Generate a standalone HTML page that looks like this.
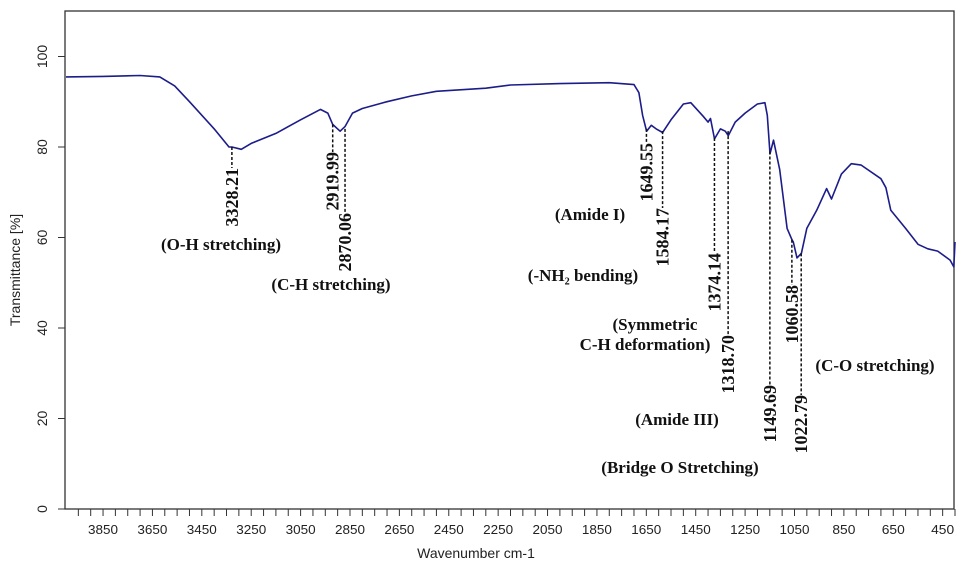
<!DOCTYPE html>
<html><head><meta charset="utf-8"><style>
html,body{margin:0;padding:0;background:#fff;}
svg{display:block;}
.ax{font-family:"Liberation Sans",sans-serif;font-size:14px;fill:#222;}
.an{font-family:"Liberation Serif",serif;font-weight:bold;font-size:18px;fill:#111;}
.gr{font-family:"Liberation Serif",serif;font-weight:bold;font-size:17px;fill:#111;}
</style></head><body>
<svg id="chart" width="957" height="576" xmlns="http://www.w3.org/2000/svg"></svg>
<script>
const wavenumbers=[4000,3850,3700,3620,3560,3500,3400,3340,3328,3290,3250,3150,3050,2970,2940,2920,2890,2870,2840,2800,2700,2600,2500,2300,2200,2000,1800,1700,1680,1665,1649,1630,1610,1584,1550,1500,1470,1420,1400,1390,1374,1350,1330,1318,1290,1250,1200,1170,1160,1149,1135,1110,1080,1060,1055,1040,1022,1000,960,920,900,860,820,780,700,680,660,600,550,510,470,420,405,400];
const transmittance=[95.5,95.6,95.8,95.5,93.5,90,84,80,80,79.5,80.8,83,86,88.3,87.5,85,83.5,84.5,87.5,88.5,90,91.3,92.3,93,93.7,94,94.2,93.8,92,87,83.5,84.8,84,83.2,86,89.5,89.8,86.8,85.5,86.3,81.8,84,83.5,82.5,85.5,87.5,89.5,89.8,87,78.5,81.5,75,62,59.5,59,55.5,56.5,62,66,70.8,68.5,74,76.3,76,73,71,66,62,58.5,57.5,57,55,53.5,59];
const yTicks=[0,20,40,60,80,100];
const xTickLabels=[3850,3650,3450,3250,3050,2850,2650,2450,2250,2050,1850,1650,1450,1250,1050,850,650,450];
const peakWn=[3328.21,2919.99,2870.06,1649.55,1584.17,1374.14,1318.70,1149.69,1060.58,1022.79];
const peakT=[80,85,84,84,83.5,82,83.5,79,59.5,56.5];
const peakEnd=[168,152,213,143,208,253,335,385,285,395];
const groups=[["(O-H stretching)",221,250],["(C-H stretching)",331,290],["(Amide I)",590,220],["(-NH\u2082 bending)",583,281],["(Symmetric",655,330],["C-H deformation)",645,350],["(Amide III)",677,425],["(Bridge O Stretching)",680,473],["(C-O stretching)",875,371]];

const svg=document.getElementById('chart');
const NS='http://www.w3.org/2000/svg';
const L=65,R=954,T=11,B=509;
const xs=w=>L+(4000-w)*(R-L)/3600+1;
const ys=v=>B-v*4.525;
function mk(tag,attrs,parent){const e=document.createElementNS(NS,tag);for(const k in attrs)e.setAttribute(k,attrs[k]);(parent||svg).appendChild(e);return e;}

const frame=mk('rect',{x:L,y:T,width:R-L,height:B-T,fill:'none',stroke:'#333','stroke-width':1.3});



yTicks.forEach(v=>{
  const t=mk('line',{x1:L-7,x2:L,y1:ys(v),y2:ys(v),stroke:'#333'});
  
  
  const lb=mk('text',{class:'ax',transform:`translate(${L-18},${ys(v)}) rotate(-90)`,'text-anchor':'middle'});
  lb.textContent=v;
  
  
});
for(let w=3950;w>=400;w-=50){
  const t=mk('line',{x1:xs(w),x2:xs(w),y1:B,y2:B+7,stroke:'#333'});
  
  
}
xTickLabels.forEach(w=>{
  const a={class:'ax',x:xs(w),y:534,'text-anchor':'middle',style:'font-size:13px'};
  a.textLength=w>=1000?30:23;a.lengthAdjust='spacingAndGlyphs';
  const lb=mk('text',a);
  lb.textContent=w;
  
  
});
const xt=mk('text',{class:'ax',x:476,y:558,'text-anchor':'middle'});
xt.textContent='Wavenumber cm-1';


const yt=mk('text',{class:'ax',transform:'translate(20,270) rotate(-90)','text-anchor':'middle'});
yt.textContent='Transmittance [%]';



const d=wavenumbers.map((w,i)=>(i?'L':'M')+xs(w).toFixed(1)+','+ys(transmittance[i]).toFixed(1)).join(' ');
const line=mk('path',{d:d,fill:'none',stroke:'#1c1c8a','stroke-width':1.6,'stroke-linejoin':'round'});



peakWn.forEach((w,i)=>{
  const x=xs(w);
  const dl=mk('line',{x1:x,x2:x,y1:ys(peakT[i]),y2:peakEnd[i],stroke:'#111','stroke-width':1.5,'stroke-dasharray':'3,2'});
  
  
  const tx=mk('text',{class:'an',transform:`translate(${x+6},${peakEnd[i]}) rotate(-90)`,'text-anchor':'end'});
  tx.textContent=w.toFixed(2);
  
  
});
groups.forEach(g=>{
  const tx=mk('text',{class:'gr',x:g[1],y:g[2],'text-anchor':'middle'});
  tx.textContent=g[0];
  
  
});
</script>
</body></html>
